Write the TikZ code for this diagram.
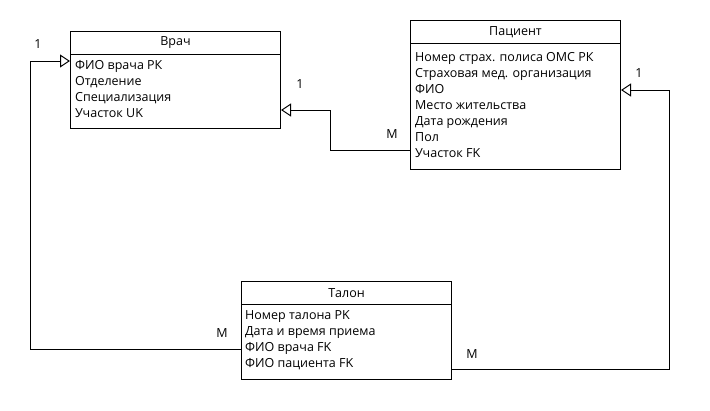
\documentclass[tikz,border=0pt]{standalone}
\usepackage{fontspec}
\setmainfont{Open Sans}
\usetikzlibrary{arrows.meta}
\begin{document}
\begin{tikzpicture}[x=1pt,y=-1pt,
  txt/.style={font=\fontsize{12.5}{16}\selectfont},
  hdr/.style={draw,line width=1pt,minimum width=210pt,minimum height=23pt,anchor=north west,inner sep=0pt,txt},
  body/.style={draw,line width=1pt,minimum width=210pt,anchor=north west,inner sep=0pt},
  row/.style={anchor=base west,inner sep=0pt,txt},
  lbl/.style={inner sep=0pt,txt},
  rel/.style={line width=1pt,-{Triangle[open,length=10pt,width=13pt]}},
  lnk/.style={line width=1pt}]
\useasboundingbox[fill=white] (0,0) rectangle (710,410);

% Врач
\node[hdr] (vrachH) at (70,31) {Врач};
\node[body,minimum height=74pt] (vrachB) at (70,54) {};
\node[row] (v1) at (75,69.5) {ФИО врача РК};
\node[row] (v2) at (75,85.5) {Отделение};
\node[row] (v3) at (75,101.5) {Специализация};
\node[row] (v4) at (75,117.5) {Участок UK};

% Пациент
\node[hdr] (patH) at (410,20) {Пациент};
\node[body,minimum height=126pt] (patB) at (410,43) {};
\node[row] (p1) at (415,61) {Номер страх. полиса ОМС РК};
\node[row] (p2) at (415,77) {Страховая мед. организация};
\node[row] (p3) at (415,93) {ФИО};
\node[row] (p4) at (415,109) {Место жительства};
\node[row] (p5) at (415,125) {Дата рождения};
\node[row] (p6) at (415,141) {Пол};
\node[row] (p7) at (415,157) {Участок FK};

% Талон
\node[hdr] (talH) at (241,281) {Талон};
\node[body,minimum height=75pt] (talB) at (241,304) {};
\node[row] (t1) at (245,319.5) {Номер талона PK};
\node[row] (t2) at (245,335.5) {Дата и время приема};
\node[row] (t3) at (245,351.5) {ФИО врача FK};
\node[row] (t4) at (245,367.5) {ФИО пациента FK};

% connectors
\draw[lnk] (talB.west |- 0,349) -| (30,61);
\draw[rel] (30,61) -- (vrachB.west |- 0,61);
\draw[lnk] (patB.west |- 0,150) -| (330,110);
\draw[rel] (330,110) -- (vrachB.east |- 0,110);
\draw[lnk] (talB.east |- 0,369) -| (669,90);
\draw[rel] (669,90) -- (patB.east |- 0,90);

% labels
\node[lbl] (l1) at (38,44) {1};
\node[lbl] (l2) at (300,84) {1};
\node[lbl] (l3) at (392,134) {M};
\node[lbl] (l4) at (639,73) {1};
\node[lbl] (l5) at (222,333) {M};
\node[lbl] (l6) at (472,354) {M};
\end{tikzpicture}
\end{document}
